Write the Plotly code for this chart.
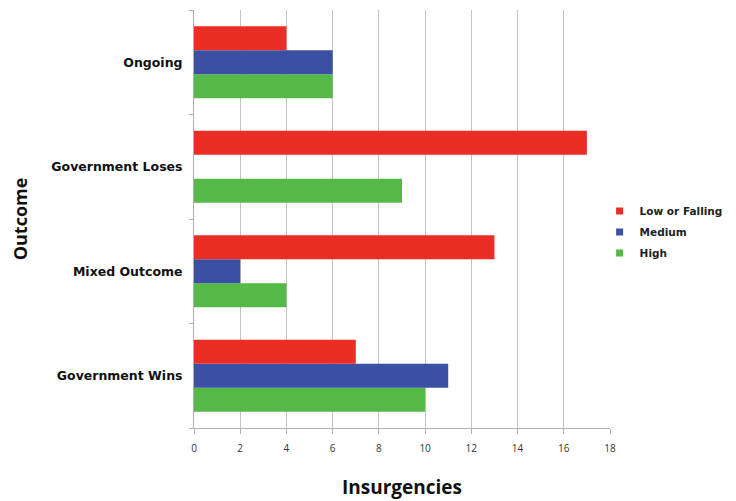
import plotly.graph_objects as go

categories = ["Government Wins", "Mixed Outcome", "Government Loses", "Ongoing"]
low_or_falling = [7, 13, 17, 4]
medium = [11, 2, 0, 6]
high = [10, 4, 9, 6]
x_ticks = [0, 2, 4, 6, 8, 10, 12, 14, 16, 18]

series = [("Low or Falling", low_or_falling, "#ea2e26"),
          ("Medium", medium, "#3a50a2"),
          ("High", high, "#55b947")]

fig = go.Figure()
# bars (added bottom-to-top within each group)
for name, vals, col in reversed(series):
    fig.add_trace(go.Bar(y=categories, x=vals, name=name, orientation="h",
                         marker=dict(color=col, line=dict(width=0)),
                         showlegend=False))
# legend entries with small square symbols
for name, vals, col in series:
    fig.add_trace(go.Scatter(x=[None], y=[None], mode="markers", name=name,
                             legendgroup=name,
                             marker=dict(symbol="square", size=7, color=col)))

fig.update_layout(
    width=736, height=501,
    barmode="group", bargap=0.31, bargroupgap=0,
    paper_bgcolor="white", plot_bgcolor="white",
    margin=dict(l=186, r=134, t=2, b=81, autoexpand=False),
    font=dict(family="Open Sans", color="#222"),
    legend=dict(x=0.975, y=0.469, xanchor="left", yanchor="middle",
                traceorder="grouped",
                font=dict(size=10.5, family="DejaVu Sans", weight="bold", color="#222"),
                itemwidth=30, tracegroupgap=2),
    xaxis=dict(range=[0, 18], tickvals=x_ticks, showgrid=True, gridcolor="#c9c1c0",
               gridwidth=1, showline=True, linecolor="#b8aeac", ticks="outside",
               tickcolor="#b8aeac", ticklen=5, zeroline=False, automargin=False,
               ticklabelstandoff=6,
               tickfont=dict(size=10, color="#333"),
               title=dict(text="Insurgencies", standoff=26,
                          font=dict(size=19, weight="bold", color="#111"))),
    yaxis=dict(categoryorder="array", categoryarray=categories, showline=True,
               linecolor="#b8aeac", ticks="outside", tickcolor="#b8aeac", ticklen=4,
               tickson="boundaries", ticklabelstandoff=8, automargin=False,
               tickfont=dict(size=12.5, family="DejaVu Sans", weight="bold", color="#111"),
               title=dict(text="Outcome", standoff=26,
                          font=dict(size=18, weight="bold", color="#111"))),
)

fig.write_html("out.html")
